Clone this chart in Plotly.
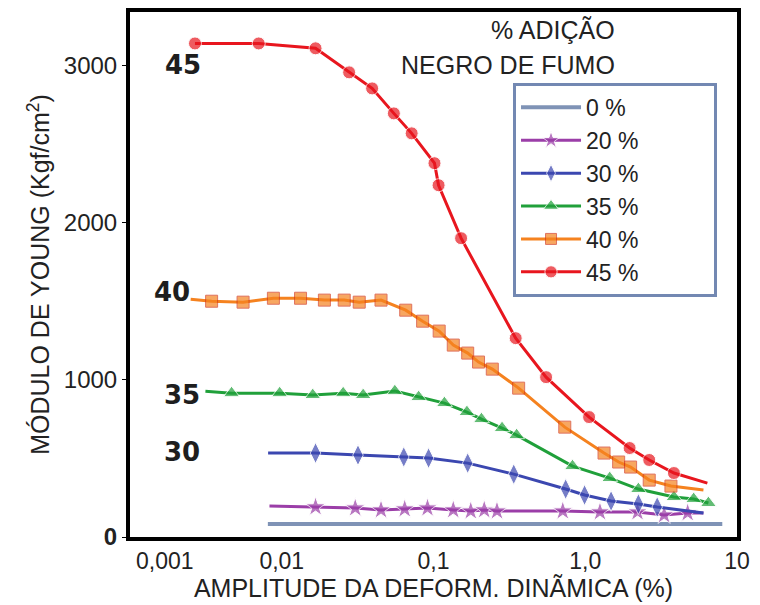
import plotly.graph_objects as go

# ---- data (strain amplitude %, Young's modulus kgf/cm2) ----
x0 = [0.0081, 8.0]
y0 = [83, 83]

x20 = [0.0083, 0.0167, 0.0305, 0.0451, 0.0646, 0.0913, 0.135, 0.176, 0.216, 0.262, 0.711, 1.25, 2.21, 3.31, 4.73, 6.01]
y20 = [197, 191, 184, 172, 178, 184, 172, 165, 172, 165, 165, 159, 159, 140, 153, 153]

x30 = [0.00813, 0.0167, 0.0318, 0.0637, 0.0928, 0.168, 0.338, 0.743, 0.99, 1.48, 2.24, 2.98, 6.01]
y30 = [534, 534, 521, 509, 502, 470, 400, 305, 267, 229, 210, 191, 153]

x35 = [0.00314, 0.00467, 0.00969, 0.0160, 0.0254, 0.0344, 0.0556, 0.0798, 0.118, 0.166, 0.207, 0.283, 0.353, 0.824, 1.45, 2.24, 3.84, 5.18, 6.48]
y35 = [928, 915, 915, 903, 915, 903, 928, 890, 852, 795, 750, 693, 648, 451, 375, 305, 254, 242, 216]

x40 = [0.00251, 0.00345, 0.00556, 0.00881, 0.0133, 0.0191, 0.0258, 0.0324, 0.0451, 0.0656, 0.0848, 0.109, 0.135, 0.168, 0.198, 0.244, 0.364, 0.733, 1.33, 1.66, 1.99, 2.64, 3.67, 6.01]
y40 = [1513, 1500, 1494, 1519, 1519, 1507, 1507, 1494, 1507, 1443, 1373, 1310, 1221, 1170, 1113, 1068, 947, 699, 534, 477, 445, 362, 324, 299]

x45 = [0.00268, 0.00705, 0.0167, 0.0278, 0.0394, 0.0548, 0.0718, 0.1015, 0.108, 0.152, 0.348, 0.552, 1.06, 1.96, 2.64, 3.84, 6.38]
y45 = [3140, 3140, 3109, 2956, 2854, 2695, 2568, 2378, 2238, 1901, 1265, 1017, 763, 566, 490, 407, 343]

series_names = ["0 %", "20 %", "30 %", "35 %", "40 %", "45 %"]
curve_labels = ["45", "40", "35", "30"]
curve_label_log_x = [-2.65, -2.72, -2.66, -2.66]   # log10 of amplitude
curve_label_y = [3000, 1560, 905, 540]
x_first_tick_text = "0,001"          # drawn just right of the axis corner, as in the reference
x_ticks = [0.01, 0.1, 1, 10]
x_tick_text = ["0,01", "0,1", "1,0", "10"]
y_ticks = [0, 1000, 2000, 3000]
y_tick_text = ["<b>0</b>", "1000", "2000", "3000"]

PAD = "\u00a0" * 11   # widen legend box like the reference


def sizes(n, size, line_start=False, line_end=False):
    s = [size] * n
    if line_start:
        s[0] = 0
    if line_end:
        s[-1] = 0
    return s


fig = go.Figure()

fig.add_trace(go.Scatter(x=x0, y=y0, name=series_names[0] + PAD, mode="lines",
                         line=dict(color="#7f93b6", width=4)))
fig.add_trace(go.Scatter(x=x20, y=y20, name=series_names[1] + PAD, mode="lines+markers",
                         line=dict(color="#9b3ea8", width=3),
                         marker=dict(symbol="star", size=sizes(len(x20), 15, True, True),
                                     color="#9b3ea8")))
fig.add_trace(go.Scatter(x=x30, y=y30, name=series_names[2] + PAD, mode="lines+markers",
                         line=dict(color="#3b47b0", width=3),
                         marker=dict(symbol="diamond-tall", size=sizes(len(x30), 15, True, True),
                                     color="#3b47b0")))
fig.add_trace(go.Scatter(x=x35, y=y35, name=series_names[3] + PAD, mode="lines+markers",
                         line=dict(color="#20a03a", width=3),
                         marker=dict(symbol="triangle-up", size=sizes(len(x35), 14, True, False),
                                     color="#20a03a")))
fig.add_trace(go.Scatter(x=x40, y=y40, name=series_names[4] + PAD, mode="lines+markers",
                         line=dict(color="#f5821f", width=3),
                         marker=dict(symbol="square", size=sizes(len(x40), 12, True, True),
                                     color="#f5821f", line=dict(color="#d2381c", width=1))))
fig.add_trace(go.Scatter(x=x45, y=y45, name=series_names[5] + PAD, mode="lines+markers",
                         line=dict(color="#e8161e", width=3),
                         marker=dict(symbol="circle", size=sizes(len(x45), 13, False, True),
                                     color="#e8161e")))

# curve labels
for txt, xv, yv in zip(curve_labels, curve_label_log_x, curve_label_y):
    fig.add_annotation(x=xv, y=yv, xref="x", yref="y", text="<b>" + txt + "</b>", showarrow=False,
                       font=dict(family="DejaVu Sans", size=26, color="#1e1e1e"), xanchor="center")

# first x tick label
fig.add_annotation(x=-3, y=0, xref="x", yref="paper", text=x_first_tick_text, showarrow=False,
                   xanchor="left", yanchor="top", xshift=4, yshift=-9,
                   font=dict(family="Liberation Sans", size=23, color="#222222"))

# legend heading
fig.add_annotation(xref="paper", yref="paper", x=0.802, y=0.966, text="% ADIÇÃO", showarrow=False,
                   yanchor="middle", font=dict(family="Liberation Sans", size=25, color="#222222"))
fig.add_annotation(xref="paper", yref="paper", x=0.802, y=0.899, text="NEGRO DE FUMO", showarrow=False,
                   yanchor="middle", font=dict(family="Liberation Sans", size=25, color="#222222"))

fig.update_layout(
    width=760, height=605,
    margin=dict(l=130, r=23, t=12, b=68),
    paper_bgcolor="white", plot_bgcolor="white",
    font=dict(family="Liberation Sans", size=24, color="#222222"),
    legend=dict(x=0.631, y=0.865, xanchor="left", yanchor="top",
                bordercolor="#7388b2", borderwidth=3, bgcolor="white",
                font=dict(size=23), itemwidth=60,
                traceorder="normal", tracegroupgap=0),
    showlegend=True,
)
fig.update_xaxes(type="log", range=[-3, 1], tickvals=x_ticks, ticktext=x_tick_text,
                 tickfont=dict(size=23), automargin=False,
                 showgrid=False, zeroline=False, showline=True, linecolor="black", linewidth=4,
                 mirror=True, ticks="",
                 title=dict(text="AMPLITUDE DA DEFORM. DINÃMICA (%)", standoff=3,
                            font=dict(size=25)))
fig.update_yaxes(range=[0, 3340], tickvals=y_ticks, ticktext=y_tick_text,
                 tickfont=dict(size=24), automargin=False,
                 showgrid=False, zeroline=False, showline=True, linecolor="black", linewidth=4,
                 mirror=True, ticks="outside", ticklen=4, tickcolor="black",
                 title=dict(text="MÓDULO DE YOUNG (Kgf/cm<sup>2</sup>)", standoff=8,
                            font=dict(size=25)))

fig.write_html("out.html")
